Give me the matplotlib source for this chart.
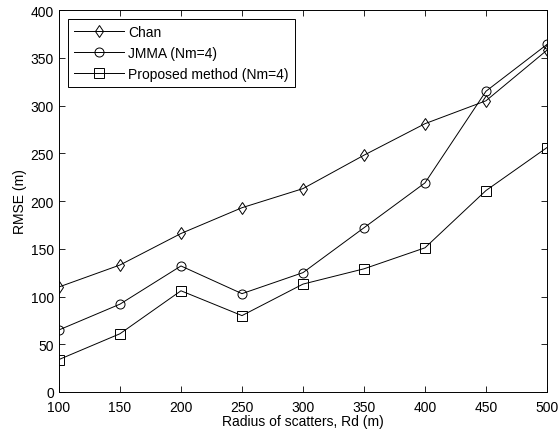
import numpy as np
import matplotlib.pyplot as plt

plt.rcParams['font.family'] = ['Liberation Sans', 'DejaVu Sans']

# Dados
raio = [100, 150, 200, 250, 300, 350, 400, 450, 500]
rmse_chan = [110, 133, 166, 193, 213, 248, 281, 305, 358]
rmse_jmma = [65, 92, 132, 103, 125, 172, 219, 315, 364]
rmse_proposto = [34, 61, 106, 80, 113, 129, 151, 211, 256]

fig = plt.figure(figsize=(5.59, 4.39), dpi=100)
ax = fig.add_axes([0.1055, 0.1048, 0.873, 0.870])

estilo = dict(color='black', linewidth=0.7, markerfacecolor='none',
              markeredgecolor='black', markeredgewidth=0.7)
ax.plot(raio, rmse_chan, marker='d', markersize=6.5, label='Chan', **estilo)
ax.plot(raio, rmse_jmma, marker='o', markersize=6.5, label='JMMA (Nm=4)', **estilo)
ax.plot(raio, rmse_proposto, marker='s', markersize=6.5,
        label='Proposed method (Nm=4)', **estilo)

ax.set_xlim(100, 500)
ax.set_ylim(0, 400)
ax.set_xticks(np.arange(100, 501, 50))
ax.set_yticks(np.arange(0, 401, 50))
ax.tick_params(direction='in', top=True, right=True, labelsize=10, length=4, width=0.6)
ax.tick_params(axis='x', pad=5.5)
for s in ax.spines.values():
    s.set_linewidth(0.7)
ax.set_xlabel('Radius of scatters, Rd (m)', fontsize=10, labelpad=0)
ax.set_ylabel('RMSE (m)', fontsize=10, labelpad=3)

leg = ax.legend(loc='upper left', fontsize=10, fancybox=False, framealpha=1,
                edgecolor='black', handlelength=3.6, handletextpad=0.3,
                borderaxespad=0.65, labelspacing=0.5, borderpad=0.45)
leg.get_frame().set_linewidth(0.7)

fig.savefig('out.png', dpi=100)
